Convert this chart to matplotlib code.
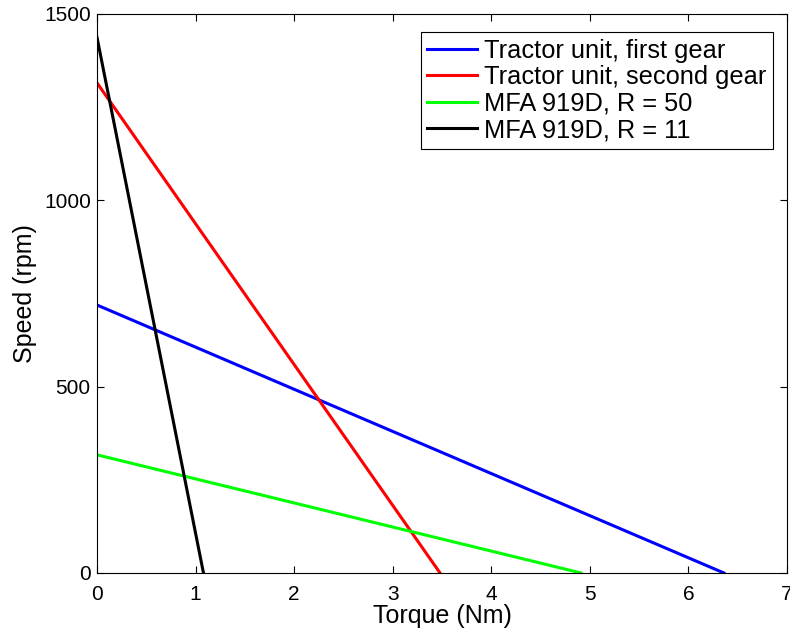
import numpy as np
import matplotlib
matplotlib.use('Agg')
import matplotlib.pyplot as plt

plt.rcParams['font.family'] = ['Liberation Sans', 'DejaVu Sans']

# end points of each speed-torque line (torque Nm, speed rpm)
labels = ['Tractor unit, first gear', 'Tractor unit, second gear',
          'MFA 919D, R = 50', 'MFA 919D, R = 11']
torque = [[0, 6.36], [0, 3.48], [0, 4.91], [0, 1.08]]
speed = [[719, 0], [1315, 0], [317, 0], [1437, 0]]
colors = ['#0000ff', '#ff0000', '#00ff00', '#000000']

fig = plt.figure(figsize=(7.9, 6.32), dpi=100)
ax = fig.add_axes([0.1228, 0.0934, 0.8734, 0.8845])

for t, s, c, lab in zip(torque, speed, colors, labels):
    ax.plot(t, s, color=c, lw=2.2, label=lab)

ax.set_xlim(0, 7)
ax.set_ylim(0, 1500)
ax.set_xticks(range(8))
ax.set_yticks([0, 500, 1000, 1500])
ax.tick_params(direction='in', labelsize=15, length=5, top=True, right=True)
ax.tick_params(axis='x', pad=8.5)
ax.tick_params(axis='y', pad=4.5)
ax.set_xlabel('Torque (Nm)', fontsize=18, labelpad=0)
ax.set_ylabel('Speed (rpm)', fontsize=18, labelpad=5)

leg = ax.legend(loc='upper right', fontsize=18.3, fancybox=False, framealpha=1,
                edgecolor='black', handlelength=1.95, borderpad=0.25,
                labelspacing=0.1, handletextpad=0.3, borderaxespad=0,
                bbox_to_anchor=(0.98, 0.967))
leg.get_frame().set_linewidth(0.8)

fig.savefig('out.png', dpi=100)
